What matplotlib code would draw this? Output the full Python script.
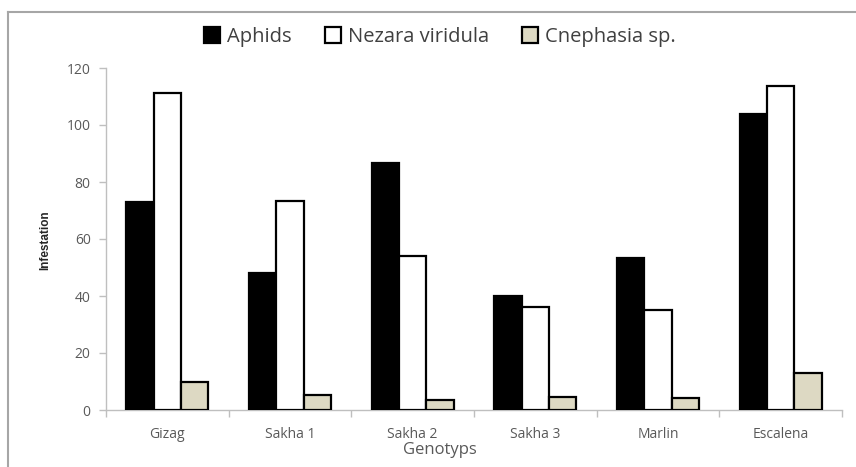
import matplotlib
matplotlib.use("Agg")
import matplotlib.pyplot as plt
from matplotlib.lines import Line2D
from matplotlib.patches import Patch
import numpy as np

categories = ["Gizag", "Sakha 1", "Sakha 2", "Sakha 3", "Marlin", "Escalena"]
aphids = [73, 48, 86.5, 40, 53.2, 104]
nezara = [111.3, 73.3, 54, 36, 35, 113.8]
cnephasia = [10, 5.2, 3.6, 4.7, 4.3, 13]
series_names = ["Aphids", "Nezara viridula", "Cnephasia sp."]
yticks = [0, 20, 40, 60, 80, 100, 120]

plt.rcParams['font.family'] = ['Open Sans', 'DejaVu Sans']

W, H = 856, 467
fig = plt.figure(figsize=(W / 100, H / 100), dpi=100)
ax = fig.add_axes([106 / W, 1 - 410 / H, (842 - 106) / W, (410 - 68) / H])

x = np.arange(len(categories))
w = 0.222
fills = ["black", "white", "#ddd9c3"]
for i, (vals, fc) in enumerate(zip([aphids, nezara, cnephasia], fills)):
    ax.bar(x + (i - 1) * w, vals, width=w, color=fc, edgecolor="black",
           linewidth=1.6, zorder=3)

ax.set_xlim(-0.5, len(categories) - 0.5)
ax.set_ylim(0, 120)
ax.set_yticks(yticks)
ax.set_yticklabels([str(v) for v in yticks])
ax.set_xticks(x)
ax.set_xticklabels(categories)
ax.set_xticks(np.arange(-0.5, len(categories)), minor=True)
ax.tick_params(axis="x", which="major", length=0, pad=12, labelsize=10, colors="#595959")
ax.tick_params(axis="x", which="minor", length=5, color="#bfbfbf", width=1)
ax.tick_params(axis="y", length=5, color="#bfbfbf", width=1, labelsize=10,
               labelcolor="#595959", pad=6)
for s in ["top", "right"]:
    ax.spines[s].set_visible(False)
for s in ["left", "bottom"]:
    ax.spines[s].set_color("#bfbfbf")
    ax.spines[s].set_linewidth(1)

fig.text(45 / W, 1 - 240 / H, "Infestation", rotation=90, ha="center", va="center",
         fontsize=8.5, fontweight="bold", color="#262626",
         family=["Liberation Sans", "DejaVu Sans"])
fig.text(440 / W, 1 - 450 / H, "Genotyps", ha="center", va="center", fontsize=12,
         color="#595959")

handles = [Patch(facecolor=fc, edgecolor="black", linewidth=1.6) for fc in fills]
leg = fig.legend(handles, series_names, loc="center", bbox_to_anchor=(440 / W, 1 - 37 / H),
                 ncol=3, frameon=False, fontsize=14.5, handlelength=0.78, handleheight=0.78,
                 handletextpad=0.36, columnspacing=1.65, borderaxespad=0, borderpad=0)
for t in leg.get_texts():
    t.set_color("#404040")

# outer frame (left and top edges visible)
fig.add_artist(Line2D([8 / W, 8 / W], [0, 1 - 12 / H], transform=fig.transFigure,
                      color="#a6a6a6", linewidth=1.5))
fig.add_artist(Line2D([8 / W, 1], [1 - 12 / H, 1 - 12 / H], transform=fig.transFigure,
                      color="#a6a6a6", linewidth=1.5))

fig.savefig("out.png", dpi=100)
